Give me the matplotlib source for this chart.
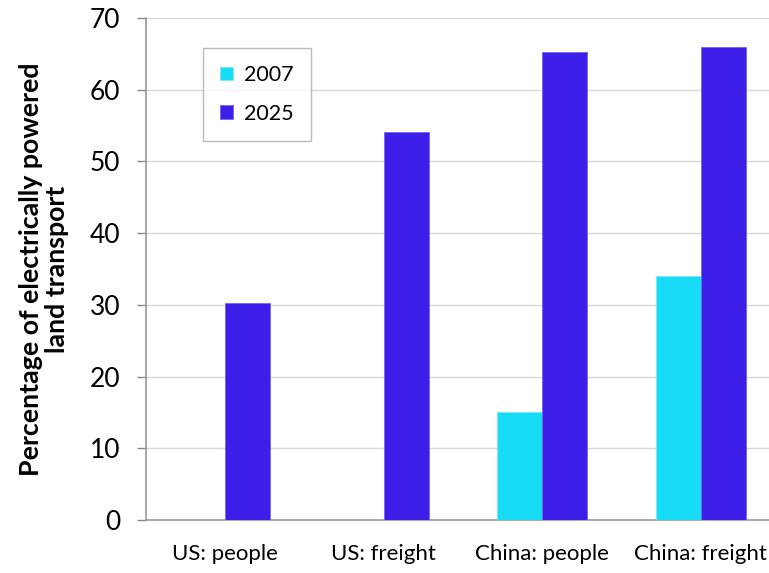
import matplotlib.pyplot as plt
import numpy as np

plt.rcParams['font.family'] = ['Lato', 'DejaVu Sans']

categories = ['US: people', 'US: freight', 'China: people', 'China: freight']
years = ['2007', '2025']
share_2007 = [0, 0, 15, 34]
share_2025 = [30.2, 54.1, 65.2, 66.0]
colors = ['#17dcf5', '#3b1fe8']

fig = plt.figure(figsize=(7.69, 5.73), dpi=100)
ax = fig.add_axes([146 / 769, 53 / 573, (780 - 146) / 769, 502 / 573])

x = np.arange(len(categories))
w = 0.283
ax.bar(x - w / 2, share_2007, w, color=colors[0], edgecolor='#7fe9f8', linewidth=0.6,
       label=years[0], zorder=3)
ax.bar(x + w / 2, share_2025, w, color=colors[1], edgecolor='#7563f0', linewidth=0.6,
       label=years[1], zorder=3)

ax.set_xlim(-0.5, 3.5)
ax.set_ylim(0, 70)
ax.set_yticks(range(0, 71, 10))
ax.set_xticks(x)
ax.set_xticklabels(categories, fontsize=16)
ax.tick_params(axis='x', length=0, pad=17)
ax.tick_params(axis='y', labelsize=19, length=6.5, width=1, color='#888888', pad=12)
ax.grid(axis='y', color='#d9d9d9', linewidth=1, zorder=0)

for s in ['top', 'right']:
    ax.spines[s].set_visible(False)
for s in ['left', 'bottom']:
    ax.spines[s].set_color('#999999')
    ax.spines[s].set_linewidth(1.2)

ax.set_ylabel('Percentage of electrically powered\nland transport', fontsize=19.3,
              fontweight='bold', labelpad=15, linespacing=1.1)

leg = ax.legend(loc='upper left', bbox_to_anchor=(203 / 769, 1 - 48 / 573),
                bbox_transform=fig.transFigure, borderaxespad=0, fancybox=False,
                fontsize=15.5, handlelength=0.6, handleheight=0.6, handletextpad=0.5,
                labelspacing=0.85, borderpad=0.8, edgecolor='#aaaaaa')
leg.get_frame().set_linewidth(1)

fig.savefig('out.png', dpi=100)
